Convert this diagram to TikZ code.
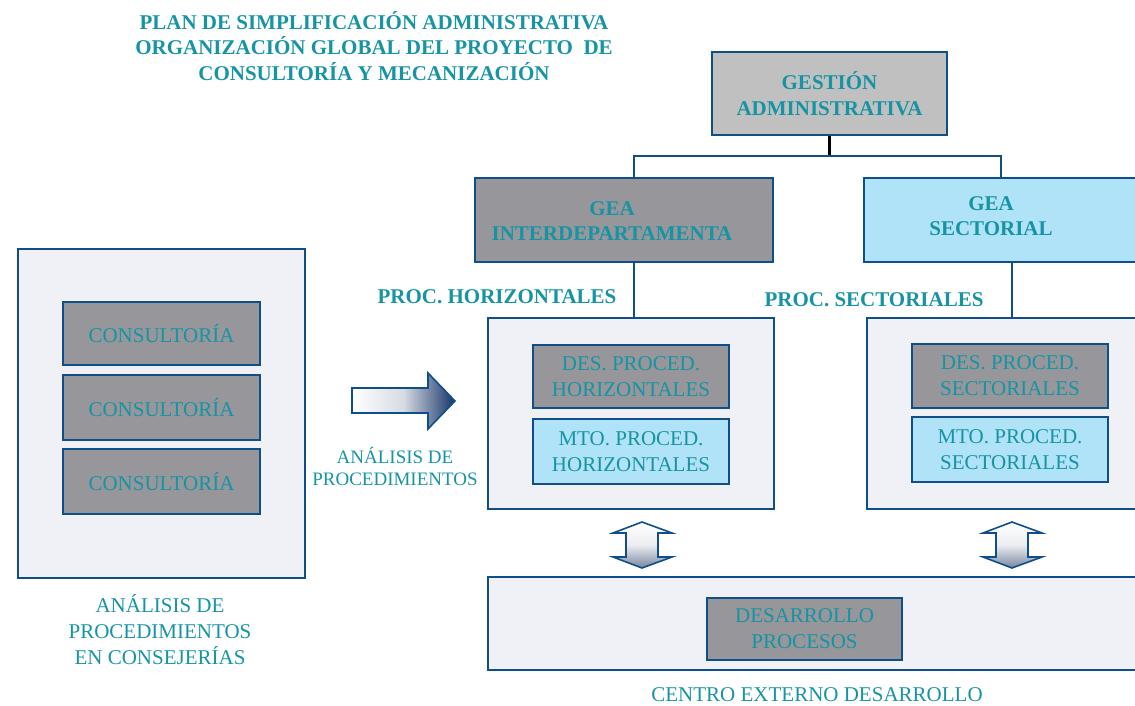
\documentclass[tikz,border=0pt]{standalone}
\usepackage{fontspec}
\setmainfont{Liberation Serif}
\definecolor{tealtext}{RGB}{22,148,164}
\definecolor{edge}{RGB}{16,78,138}
\definecolor{boxgray}{RGB}{150,150,155}
\definecolor{boxsilver}{RGB}{192,192,192}
\definecolor{boxblue}{RGB}{176,226,248}
\definecolor{boxpale}{RGB}{240,241,246}
\definecolor{arrowdark}{RGB}{22,52,104}
\definecolor{arrowsteel}{RGB}{120,134,160}
\begin{document}
\begin{tikzpicture}[x=1pt,y=-1pt,
  txt/.style={text=tealtext, font=\fontsize{21}{26}\selectfont, align=center, inner sep=0pt},
  boldtxt/.style={text=tealtext, font=\fontsize{21}{25.5}\selectfont\bfseries, align=center, inner sep=0pt},
  frame/.style={draw=edge, line width=2.6pt, inner sep=0pt},
  graybox/.style={frame, fill=boxgray, txt},
  bluebox/.style={frame, fill=boxblue, txt},
  palebox/.style={frame, fill=boxpale},
  link/.style={draw=edge, line width=2.6pt},
  twoway/.style={draw=edge, line width=1.6pt, line join=miter, top color=white, bottom color=arrowsteel, middle color=white!85!arrowsteel}
]
\useasboundingbox (0,0) rectangle (1135,706);
\clip (0,0) rectangle (1135,706);

% title
\node[boldtxt] (title) at (374,46) {PLAN DE SIMPLIFICACIÓN ADMINISTRATIVA\\ORGANIZACIÓN GLOBAL DEL PROYECTO \ DE\\CONSULTORÍA Y MECANIZACIÓN};

% top of the hierarchy
\node[frame, fill=boxsilver, boldtxt, minimum width=235pt, minimum height=83pt] (gest) at (829.5,93.5) {GESTIÓN\\ADMINISTRATIVA};
\node[frame, fill=boxgray, minimum width=298pt, minimum height=84pt] (gi) at (624,220) {};
\node[boldtxt] (gitext) at (612,221) {GEA\\INTERDEPARTAMENTA};
\node[frame, fill=boxblue, minimum width=296pt, minimum height=84pt] (gs) at (1012,220) {};
\node[boldtxt] (gstext) at (991,216) {GEA\\SECTORIAL};

\coordinate (busL) at (634,156);
\coordinate (busR) at (1001,156);
\coordinate (dropS) at (1012,300);
\draw[line width=2.6pt, black] (gest.south) -- (gest.south |- busL);
\draw[link] (gi.north -| busL) -- (busL) -- (busR) -- (gs.north -| busR);

% consulting block on the left
\node[palebox, minimum width=287pt, minimum height=329pt] (cons) at (161.5,413.5) {};
\node[graybox, minimum width=197pt, minimum height=63pt] (c1) at (161.5,333.5) {CONSULTORÍA};
\node[graybox, minimum width=197pt, minimum height=65pt] (c2) at (161.5,407.5) {CONSULTORÍA};
\node[graybox, minimum width=197pt, minimum height=65pt] (c3) at (161.5,481.5) {CONSULTORÍA};
\node[txt] (conslabel) at (160,630) {ANÁLISIS DE\\PROCEDIMIENTOS\\EN CONSEJERÍAS};

% analysis arrow
\path[draw=edge, line width=1.6pt, line join=miter, left color=white, right color=arrowdark, middle color=white!70!arrowsteel]
  (352,388) -- (428,388) -- (428,373) -- (455,401) -- (428,429) -- (428,413) -- (352,413) -- cycle;
\node[txt, font=\fontsize{19}{22}\selectfont] (arrowlabel) at (395,466) {ANÁLISIS DE\\PROCEDIMIENTOS};

% horizontal procedures
\node[boldtxt] (ph) at (497,297) {PROC. HORIZONTALES};
\node[palebox, minimum width=286pt, minimum height=191pt] (oh) at (631,413.5) {};
\node[graybox, minimum width=196pt, minimum height=63pt] (dh) at (631,376.5) {DES. PROCED.\\HORIZONTALES};
\node[bluebox, minimum width=196pt, minimum height=65pt] (mh) at (631,451.5) {MTO. PROCED.\\HORIZONTALES};
\draw[link] (gi.south -| busL) -- (oh.north -| busL);

% sectoral procedures
\node[boldtxt] (ps) at (874,300) {PROC. SECTORIALES};
\node[palebox, minimum width=293pt, minimum height=191pt] (os) at (1013.5,413.5) {};
\node[graybox, minimum width=196pt, minimum height=64pt] (ds) at (1010,376) {DES. PROCED.\\SECTORIALES};
\node[bluebox, minimum width=196pt, minimum height=65pt] (ms) at (1010,449.5) {MTO. PROCED.\\SECTORIALES};
\draw[link] (gs.south -| dropS) -- (os.north -| dropS);

% external development centre
\node[palebox, minimum width=672pt, minimum height=93pt] (ob) at (824,623.5) {};
\node[graybox, minimum width=195pt, minimum height=62pt] (dp) at (804.5,629) {DESARROLLO\\PROCESOS};
\node[txt] (oblabel) at (817,695) {CENTRO EXTERNO DESARROLLO};

% two-way arrows between the blocks
\path[twoway] (642,522) -- (672,533) -- (658,533) -- (658,557) -- (672,557) -- (642,568)
  -- (613,557) -- (626,557) -- (626,533) -- (613,533) -- cycle;
\path[twoway] (1012,522) -- (1042,533) -- (1028,533) -- (1028,557) -- (1042,557) -- (1012,568)
  -- (983,557) -- (996,557) -- (996,533) -- (983,533) -- cycle;
\end{tikzpicture}
\end{document}
